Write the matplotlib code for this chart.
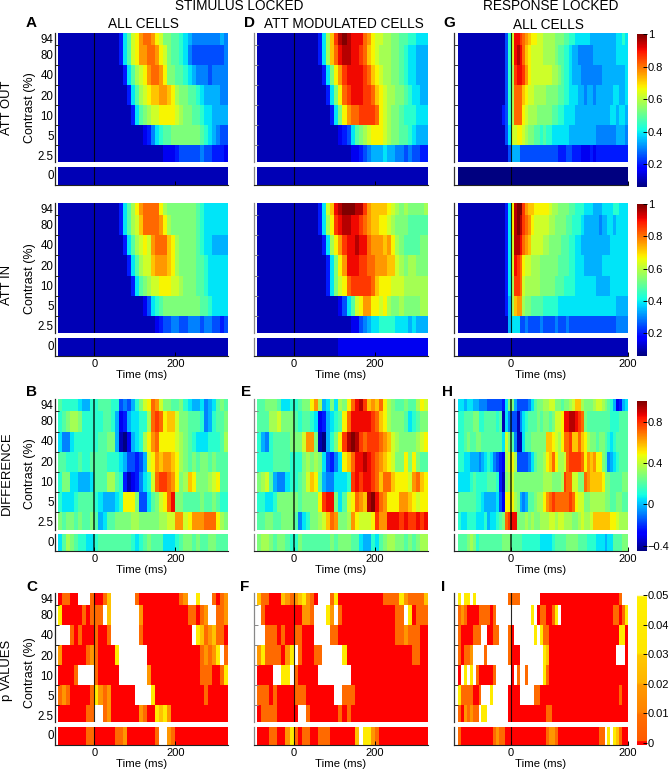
import matplotlib
matplotlib.use("Agg")
import matplotlib.pyplot as plt
import numpy as np
from matplotlib.colors import LinearSegmentedColormap

plt.rcParams["font.family"] = ["Liberation Sans", "DejaVu Sans"]

W, H = 670, 770

CONTRASTS = ["94", "80", "40", "20", "10", "5", "2.5"]
ROW_EDGES = [0, 37, 97, 157, 217, 277, 337, 389]
LABEL_Y = [6.7, 23.3, 43.3, 64, 84, 104, 124]

# each letter is one time bin, a..u = 0..1 of the colour range
A_OUT = [
    "bbbbbbbbbb bbbbbdhjmn pqqpnmkkjj ihgfffffff gf",
    "bbbbbbbbbb bbbbbdhjmn ppqqpnmkjj ihfeeeeeee ef",
    "bbbbbbbbbb bbbbbbdhjl mnpqqpnkkj jihgfffeff ff",
    "bbbbbbbbbb bbbbbbbdhj lmnoopponl kkjjihgggg ff",
    "bbbbbbbbbb bbbbbbbbdh jklmmnnnnm lkkjjihhgg gg",
    "bbbbbbbbbb bbbbbbbbbb bcdfhijjkk kkkkkjihgf ee",
    "bbbbbbbbbb bbbbbbbbbb bbbbbbcccd eeeeefeedd dc",
    "bbbbbbbbbb bbbbbbbbbb bbbbbbbbbb bbbbbbbbbb bb",
]
A_IN = [
    "bbbbbbbbbb bbbbbdhjln pqqqqnlkkk kkkkjihhhh hh",
    "bbbbbbbbbb bbbbbdhjlm oqqqqpnlkk kkkkjihhhh hh",
    "bbbbbbbbbb bbbbbbdhjl mnmpqqqonl kkkkjihhgg gg",
    "bbbbbbbbbb bbbbbbbdhj lmmoppponl kkkkjjihhh hh",
    "bbbbbbbbbb bbbbbbbbdh jklmmnnnmm lkkkjjihhh hh",
    "bbbbbbbbbb bbbbbbbbbb bcehijkkkk kkkkkjjihh hh",
    "bbbbbbbbbb bbbbbbbbbb bbbbcdeeff eefffeffee de",
    "bbbbbbbbbb bbbbbbbbbb bbbbbbbbbb bbbbbbbbbb bb",
]
D_OUT = [
    "bbbbbbbbbb bbbbbdhlor tutsssqpnm mllkkjjiih hh",
    "bbbbbbbbbb bbbbbdhloq sttssrqonm lllkkjihhg gg",
    "bbbbbbbbbb bbbbbbdhkn prssssrqon mllkkjihhg gg",
    "bbbbbbbbbb bbbbbbbdhk nqrsssrrqo nmllkkjihh gg",
    "bbbbbbbbbb bbbbbbbbdh knpqqrrrrq nmlkkjiiih hh",
    "bbbbbbbbbb bbbbbbbbbb cdehjklmnn nmlkkjjihg gg",
    "bbbbbbbbbb bbbbbbbbbb bbbccdefgg ghggffefee dd",
    "bbbbbbbbbb bbbbbbbbbb bbbbbbbbbb bbbbbbbbbb bb",
]
D_IN = [
    "bbbbbbbbbb bbbbbdhmos tuuuttrpoo oonmlklkkk kl",
    "bbbbbbbbbb bbbbbdhlnr sttssrqpoo nnmlkkkjjj jj",
    "bbbbbbbbbb bbbbbbdhln prsstssqpp popnlkjjjj kk",
    "bbbbbbbbbb bbbbbbbdhk npsssrrqqp ppoomlkllk kk",
    "bbbbbbbbbb bbbbbbbdhk mnqrrrrrqo nnnmmmllll ll",
    "bbbbbbbbbb bbbbbbbbbb cehjmnppnn mnlkklkkkk ll",
    "bbbbbbbbbb bbbbbbbbbb bbbccefghh iiiihhhghg gg",
    "bbbbbbbbbb bbbbbbbbbb cccccccccc cccccccccc cc",
]
G_OUT = [
    "bbbbbbbbbb bbbbbbeims srqponnmml lllkkkjjii hhhhhggggg gggghhih",
    "bbbbbbbbbb bbbbbbeims tsqonmmmml lllkjjiihg gfffffgggg gggghhhh",
    "bbbbbbbbbb bbbbbbeilr ssrpnmmmmm mmllkjiihg ggfffffffg gggggggh",
    "bbbbbbbbbb bbbbbbeilq qqonmmllll kkkkjjiihh hggfggfggg ggghhggh",
    "bbbbbbbbbb bbbbbdeilq qqnmlllkkk kkjjiihhhh gggggggggg gghhghhg",
    "bbbbbbbbbb bbbbbbehmm nnmlkkjjij iihhhhhhgg gggggggfff ffffgggf",
    "bbbbbbbbbb bbbbbbbegg geeeeeeeee eeeedddeed ddcccdcddd dddddddd",
    "aaaaaaaaaa aaaaaaaaaa aaaaaaaaaa aaaaaaaaaa aaaaaaaaaa aaaaaaaa",
]
G_IN = [
    "bbbbbbbbbb bbbbbbdhnt uurpoonnnn nmllkkkkjj iiihhhgggh hhhiihhh",
    "bbbbbbbbbb bbbbbbdhnt utrqpnmmmm mllkkkkjji iihgggggfg ghhghhhh",
    "bbbbbbbbbb bbbbbbdhmt tsqpommmml lkkkkjjjii hhgggggggg gghhhhhh",
    "bbbbbbbbbb bbbbbbdhms rqnmmlllkk kkkkjjjjii hhhggggggh hhhhhhhh",
    "bbbbbbbbbb bbbbbbdhlr rqmlllllkk kkkjjjiiii hhhhhhhggg gghhhhhh",
    "bbbbbbbbbb bbbbbbdglo pplkkjjjji iiiihhhhhh hhhhhhhhhh hhhhgggg",
    "bbbbbbbbbb bbbbbbbghh heefeeeefe eeefeeefee eeeeeeeeee eeeeffff",
    "bbbbbbbbbb bbbbbbbbbb bbbbbbbbbb bbbbbbbbbb bbbbbbbbbb bbbbbbbb",
]
B_DIFF = [
    "jiiiihggii jjjiiefegi kmnqpmkkjj kihgghfghj kj",
    "ijkllkiiii ijjigcdghh iilqrqnoom kkjjjifgij jk",
    "hffhiiiiii jjkkgbacgh ilnpqnnnnm lkjihhhiii jl",
    "jjiiijiijj jjiiihgeed egmnpoppon lkjkjkkjkj jj",
    "ikkhhggghj jjlljidbcd fhimqrrqpn klonkkklmn jj",
    "ihhhijjjji hggghinnnk eehjkmnqsk kjjjjkjjkj ii",
    "kjkkjkjjkj ghjjkkkkll kkkkkllmmp pmnpppqqqn lk",
    "hjlkjiihhi jjjjjjjjih ijkjjjhhhi jkkjkjjkkj jj",
]
E_DIFF = [
    "jjkkkjhhii jkknplghkh lknqstropo qnlkjjkjjl nm",
    "jjjllmkkkj ijjihcdghi jnqsssssrq onlkkkjhij kk",
    "igfijjjjkk kmppkbagik nrtutrqrrr qpomlkkkkl mn",
    "iiiijjjjii iklklkhedf hnoqsstsrq ponmkknknk jj",
    "klmjgffhii jkmonjgffh hhirsrssrq oqqonnnmpq on",
    "iihhikkkkk jkkkknrssk hjmnqpotus qpnnnpponm nn",
    "jjkkjjkkkj fhikklmoqp kklpnmmmnr ppsssrsrrs rs",
    "kllkjkkjii kjjjjjjjkj kkkjjhggih jkllkkjkjk ll",
]
H_DIFF = [
    "hhghhggfff eeeeedhkkg eeeefhjkkl lmmkkjkklm oolkkklmml kjigcdgh",
    "iijjjkkiij jjjijbhfee bfhijjjkjk kjkmmnsstt srqkjjjjjj jjiiijjj",
    "iijkjjkkjj jjjjjhmkjf bbhjjkkkkk oonmlnqqro oqonlkkjkk jihijjjj",
    "iihhgggfgh ihfedclmnl eeeefhjkkl noqnllmqrr rrqnpopnnk jfghijjj",
    "hhhhijiiii jjjidbklmk kkkkkkkkkl llkkklrqqm mkkqpoooon kkjjjjkk",
    "jjjjjjiihg ggghecnnnl kgfgjjklln pqrqqqqqrq nmmkklllll kkjjkkjj",
    "ihhiiihhhi ghhijkqrss kkklklkkll lmmlmmlllk klmllmoooo oonnmlll",
    "jjjklkijjj jjjjjkkkjj jjiiiiiihh hhijjjjkkk kjjjiiihhh ghhjjjkk",
]

# p values: r=0, o=.008, a=.018, g=.027, y=.04, w=above .05
P_CODES = {"r": 0.0, "o": 0.008, "a": 0.018, "g": 0.027, "y": 0.04, "w": 0.0507}
C_P = [
    "roorrwwwor rogwwwwwwo rrrrrrrrrr oawwywwwor oa",
    "yrrrrroroo owgwwwwwww arrrrrrrrr rrooroawwo oa",
    "wwwororrro rrowwwwwww orrrrrrrrr rrrwygoago or",
    "arrrrrroao rrrrywwwww wwrrrrrrrr rrrrroaoay wo",
    "rrrrowwwwo rrrrrwwwww wwarrrrrrr rrrrrooorr oy",
    "oaorrrrroy aoarrrrrrw wwwyrrrrrr rrrrrrorrr rr",
    "rrrrrrroow woarrrrrrr aorrygyarr rrrrrrrrrr rr",
    "rrrrrrroor rrrrooarrr rrrrowwaor rrrrrrrrrr rr",
]
F_P = [
    "goorrrgaoa gyaorwwwoy rrrrrrrrrr rooooyaooo og",
    "worrrrrrrr raaowwwyaw orrrrrrrrr rrrroowyro oo",
    "wwooororro orrrwwwwoo rrrrrrrrrr rrrrooaooo rr",
    "ayoooorayw orrroowwww wyrrrrrrrr rrrrrrrroo rr",
    "rrrrwwyywo rrrrrwwwww wwwrrrrrrr rrrrrrrrrr rr",
    "ooororrrro oorrrrrrrw wooorrrrrr rrrrrrrrrr rr",
    "roooorrrrr wworrrrrrr ororrrrrrr rrrrrrrrrr rr",
    "rrroorrayo roorrooorr rrrrgwyyao rrrrrrrrrr rr",
]
I_P = [
    "ywyywywwww wwwwwwwooo owwwwwwwrr rrrrrrrrrr rrrrrrrrrr rrrrroww",
    "oaorrrrooo orowwwwwww wwwwwywroo rroywrrrrr rrrrrrrrrr rrrooroy",
    "orrrroooww rroowwworw wwwwwwywyo orrrrrrrrr rrrrrrrrrr rrrrryyr",
    "orooawwwwo wwwwwwworr rwwwwwwwwy grrrrrrrrr rrrrrrrrrr rrrrwwwr",
    "rwywyworrr rrowwwwwrw owwowwwwwy orrrrrrrrr rrrrrrrrrr rrrrrrrr",
    "yoooorroww wywwwwwrrr rwwwwwoorr rrrrrrrrrr rrrrrrrrrr rrrrrorr",
    "oraoaoowyy wwwwwwwrrr rrrrrrrrrr oorrrrrrrr rrrrrrrrrr rrrrrrrr",
    "orrrrrrrrr rroaoorrrr rrrrrrrrrr oaaorrrrrr rrrrrrrroo wywygorr",
]

RESP_RANGE = (0.06, 1.0)
DIFF_RANGE = (-0.45, 1.0)
P_RANGE = (-0.0007, 0.0507)
RESP_TICKS = [0.2, 0.4, 0.6, 0.8, 1]
DIFF_TICKS = [-0.4, 0, 0.4, 0.8]
P_TICKS = [0, 0.01, 0.02, 0.03, 0.04, 0.05]

PVAL_COLORS = [
    (-0.0007, "#ff0000"), (0.0003, "#ff0000"), (0.0008, "#ff5a00"), (0.0095, "#ff6e00"),
    (0.0105, "#ff8200"), (0.0195, "#ff9a00"), (0.0205, "#ffb400"), (0.0295, "#ffc800"),
    (0.0305, "#ffe600"), (0.0495, "#fff000"), (0.05, "#ffffff"), (0.0507, "#ffffff"),
]
pmin, pmax = P_RANGE
p_cmap = LinearSegmentedColormap.from_list(
    "pvals", [((v - pmin) / (pmax - pmin), c) for v, c in PVAL_COLORS], N=512
)


def px_axes(fig, left, top, right, bottom):
    return fig.add_axes([left / W, 1 - bottom / H, (right - left) / W, (bottom - top) / H])


def decode(rows, ncol, vrange, codes=None):
    out = []
    for row in rows:
        s = row.replace(" ", "")
        s = (s + s[-1] * ncol)[:ncol]
        if codes:
            out.append([codes[c] for c in s])
        else:
            out.append([vrange[0] + (ord(c) - 97) / 20 * (vrange[1] - vrange[0]) for c in s])
    return np.array(out)


def draw_panel(fig, rows, x0, x1, spine_x, top, mid, z_top, bottom, tmax, step, cmap, vrange,
               codes=None, spine="#222222", time_labels=True, line_w=0.8):
    """main block of contrasts on top, 0 % strip below"""
    data = decode(rows, int(round((tmax + 90) / step)), vrange, codes)
    edges_t = np.arange(-90, tmax + step, step)
    t_left = -90 - (x0 - spine_x) * (tmax + 90) / (x1 - x0)

    ax = px_axes(fig, spine_x, top, x1, mid)
    mesh = ax.pcolormesh(edges_t, ROW_EDGES, data[:7], cmap=cmap, vmin=vrange[0], vmax=vrange[1])
    ax.set_xlim(t_left, tmax)
    ax.set_ylim(ROW_EDGES[-1], 0)
    ax.set_xticks([])
    ax.set_yticks(ROW_EDGES[1:-1])
    ax.set_yticklabels([])
    ax.tick_params(axis="y", direction="in", length=3, width=0.7, color=spine)
    ax.axvline(0, color="black", lw=line_w, alpha=0.85)

    zax = px_axes(fig, spine_x, z_top, x1, bottom)
    zax.pcolormesh(edges_t, [0, 1], data[7:], cmap=cmap, vmin=vrange[0], vmax=vrange[1])
    zax.set_xlim(t_left, tmax)
    zax.set_ylim(1, 0)
    zax.set_yticks([])
    zax.set_xticks([0, 200])
    zax.axvline(0, color="black", lw=line_w, alpha=0.85)
    zax.tick_params(axis="x", direction="in", length=3, width=0.7, pad=2, labelsize=8)
    if time_labels:
        zax.set_xticklabels(["0", "200"])
        zax.set_xlabel("Time (ms)", fontsize=8.2, labelpad=0.8)
    else:
        zax.set_xticklabels([])

    for a in (ax, zax):
        for side in ("top", "right"):
            a.spines[side].set_visible(False)
        a.spines["left"].set_color(spine)
        a.spines["left"].set_linewidth(0.9)
        a.spines["bottom"].set_color("#222222")
        a.spines["bottom"].set_linewidth(0.8)
    ax.spines["bottom"].set_visible(False)
    return mesh


def draw_cbar(fig, mesh, top, bottom, ticks, labels):
    cax = px_axes(fig, 637, top, 647, bottom)
    cb = fig.colorbar(mesh, cax=cax)
    cb.outline.set_visible(False)
    cb.set_ticks(ticks)
    cb.set_ticklabels(labels)
    cb.ax.tick_params(direction="in", length=3, width=0.7, pad=0.5, labelsize=8)


def contrast_labels(fig, top, z_mid):
    for lab, dy in zip(CONTRASTS, LABEL_Y):
        fig.text(53.5 / W, 1 - (top + dy) / H, lab, ha="right", va="center", fontsize=8.3)
    fig.text(53.5 / W, 1 - z_mid / H, "0", ha="right", va="center", fontsize=8.3)


fig = plt.figure(figsize=(W / 100, H / 100), dpi=100)

# vertical extents of the four rows: top, main bottom, strip top, strip bottom
ROWS = [(33, 162, 167, 185), (203, 333, 338, 356), (399, 530, 534, 551), (593, 722, 727, 745)]
COLS = [(58, 228, 55, 330, 10, "#222222"), (257, 428, 254, 330, 10, "#888888"), (458, 628, 454, 200, 5, "#333333")]

jet = plt.get_cmap("jet")
PANELS = [
    [A_OUT, D_OUT, G_OUT],
    [A_IN, D_IN, G_IN],
    [B_DIFF, E_DIFF, H_DIFF],
    [C_P, F_P, I_P],
]
RANGES = [RESP_RANGE, RESP_RANGE, DIFF_RANGE, P_RANGE]
CBARS = [(34, 187), (204, 356), (401, 551), (593, 745)]

for r, (row_panels, vrange) in enumerate(zip(PANELS, RANGES)):
    top, mid, z_top, bottom = ROWS[r]
    for c, rows in enumerate(row_panels):
        x0, x1, sx, tmax, step, spine = COLS[c]
        is_p = r == 3
        mesh = draw_panel(fig, rows, x0, x1, sx, top, mid, z_top, bottom, tmax, step,
                          p_cmap if is_p else jet, vrange,
                          codes=P_CODES if is_p else None, spine=spine,
                          time_labels=r != 0, line_w=1.1 if r == 2 else 0.8)
    contrast_labels(fig, top, (z_top + bottom) / 2)
    if r < 2:
        draw_cbar(fig, mesh, *CBARS[r], RESP_TICKS, ["0.2", "0.4", "0.6", "0.8", "1"])
    elif r == 2:
        draw_cbar(fig, mesh, *CBARS[r], DIFF_TICKS, ["\u22120.4", "0", "0.4", "0.8"])
    else:
        draw_cbar(fig, mesh, *CBARS[r], P_TICKS, ["0", "0.01", "0.02", "0.03", "0.04", "0.05"])

# headings
for txt, x, y in [("STIMULUS LOCKED", 239, 6), ("RESPONSE LOCKED", 551, 6),
                  ("ALL CELLS", 143, 24), ("ATT MODULATED CELLS", 344, 24), ("ALL CELLS", 548, 25)]:
    fig.text(x / W, 1 - y / H, txt, ha="center", va="center", fontsize=9.8)

for txt, x, y in [("A", 26, 23), ("D", 244, 23), ("G", 443, 23), ("B", 26, 392), ("E", 241, 392),
                  ("H", 442, 392), ("C", 26, 587), ("F", 240, 587), ("I", 441, 587)]:
    fig.text(x / W, 1 - y / H, txt, ha="left", va="center", fontsize=11, fontweight="bold")

for txt, y in [("ATT OUT", 108), ("ATT IN", 285), ("DIFFERENCE", 473), ("p VALUES", 670)]:
    fig.text(7 / W, 1 - y / H, txt, rotation=90, ha="center", va="center", fontsize=9.4)

for y in [108, 279, 474, 673]:
    fig.text(30 / W, 1 - y / H, "Contrast (%)", rotation=90, ha="center", va="center", fontsize=9)

fig.savefig("out.png", dpi=100)
